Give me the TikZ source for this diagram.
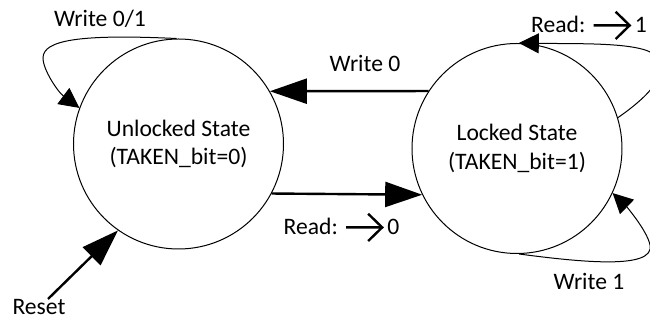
\documentclass[tikz,border=0pt]{standalone}
\usepackage{fontspec}
\setmainfont{Carlito}
\usetikzlibrary{arrows.meta}
\newcommand{\rdarrow}{\tikz[baseline=-3.8pt]\draw[line width=1.2pt] (0,0) -- (18pt,0) (11pt,6.8pt) -- (18pt,0) -- (11pt,-6.8pt);}
\begin{document}
\begin{tikzpicture}[x=0.5pt,y=0.5pt,
    every node/.style={font=\fontsize{11.8}{14.4}\selectfont},
    state/.style={draw,circle,line width=0.5pt,minimum size=105pt,inner sep=0pt,align=center},
    bigarrow/.style={line width=1.2pt,-{Triangle[length=18.5pt,width=12.5pt]}},
    looparrow/.style={line width=0.5pt,-{Triangle[length=10pt,width=10pt]}}]
    \useasboundingbox (0,0) rectangle (650,320);
    \node[state] (unlocked) at (178.5,176) {Unlocked State\\(TAKEN\_bit=0)};
    \node[state] (locked) at (517,171.5) {Locked State\\(TAKEN\_bit=1)};
    \coordinate (rst) at (48,21);
    \node[anchor=base,inner sep=1pt] (resetlbl) at (39,5) {Reset};
    \draw[bigarrow] (rst) -- (unlocked.235);
    \draw[bigarrow] (locked.147) -- (unlocked.30);
    \draw[bigarrow] (unlocked.-28) -- (locked.206);
    \node[anchor=base] (w0) at (365,248) {Write 0};
    \node[anchor=base] (rd0) at (341.5,85) {Read: \rdarrow\,0};
    \draw[looparrow] (unlocked.91) .. controls (80,286) and (43,280) .. (43,262)
        .. controls (43,250) and (58,228) .. (unlocked.160);
    \node[anchor=base] (w01) at (100,293) {Write 0/1};
    \draw[looparrow] (locked.17) .. controls (655,228) and (670,250) .. (655,265)
        .. controls (640,278) and (580,276) .. (locked.89);
    \node[anchor=base] (rd1) at (589,287) {Read: \rdarrow\,1};
    \draw[looparrow] (locked.271) .. controls (580,58) and (655,50) .. (650,75)
        .. controls (647,90) and (625,115) .. (locked.335);
    \node[anchor=base] (w1) at (589,30) {Write 1};
\end{tikzpicture}
\end{document}
